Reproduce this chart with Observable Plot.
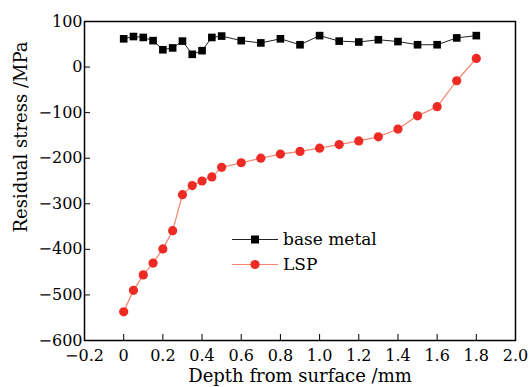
<!DOCTYPE html>
<html><head><meta charset="utf-8">
<script src="https://cdn.jsdelivr.net/npm/d3@7"></script>
<script src="https://cdn.jsdelivr.net/npm/@observablehq/plot@0.6"></script>
<style>
body{margin:0;background:#fff;}
#wrap{position:relative;width:532px;height:387px;font-family:"DejaVu Serif",serif;}
#legend{position:absolute;left:232px;top:227px;font-size:17px;line-height:25px;color:#000;}
#legend div{display:flex;align-items:center;height:25px;}
#legend svg{margin-right:5px;}
</style>
</head><body>
<div id="wrap"><div id="chart"></div>
<div id="legend"></div></div>
<script>
const depth = [0,0.05,0.1,0.15,0.2,0.25,0.3,0.35,0.4,0.45,0.5,0.6,0.7,0.8,0.9,1.0,1.1,1.2,1.3,1.4,1.5,1.6,1.7,1.8];
const baseMetal = [62,67,65,58,38,42,57,28,36,65,68,58,53,62,49,69,57,55,60,56,49,49,64,69];
const lsp = [-537,-490,-456,-430,-399,-359,-280,-260,-250,-241,-220,-210,-200,-191,-185,-178,-170,-162,-153,-136,-107,-87,-30,19];
const xTicks = [-0.2,0,0.2,0.4,0.6,0.8,1.0,1.2,1.4,1.6,1.8,2.0];
const yTicks = [-600,-500,-400,-300,-200,-100,0,100];
const seriesNames = ["base metal","LSP"];

const baseData = depth.map((d,i)=>({x:d,y:baseMetal[i]}));
const lspData = depth.map((d,i)=>({x:d,y:lsp[i]}));

const fmtX = d => d === 0 ? "0" : d3.format(".1f")(d);

const chart = Plot.plot({
  width:532, height:387,
  marginLeft:84, marginRight:17, marginTop:21, marginBottom:47,
  style:{fontFamily:"DejaVu Serif, serif", fontSize:"16px", color:"#000", background:"#fff"},
  x:{domain:[-0.2,2.0]},
  y:{domain:[-600,100]},
  marks:[
    Plot.axisX({ticks:xTicks, tickFormat:fmtX, tickSize:-6, tickPadding:15, label:null, stroke:"#000"}),
    Plot.axisY({ticks:yTicks, tickSize:-6, tickPadding:8, label:null, stroke:"#000"}),
    Plot.text(["Depth from surface /mm"],{frameAnchor:"bottom", dy:41, fontSize:18, lineAnchor:"bottom", text:d=>d}),
    Plot.text(["Residual stress /MPa"],{frameAnchor:"left", textAnchor:"middle", dx:-63, dy:-44, rotate:-90, fontSize:18, text:d=>d}),
    Plot.line(baseData,{x:"x",y:"y",stroke:"#222",strokeWidth:1}),
    Plot.dot(baseData,{x:"x",y:"y",symbol:"square",r:4.3,fill:"#000"}),
    Plot.line(lspData,{x:"x",y:"y",stroke:"#f5826c",strokeWidth:1.2}),
    Plot.dot(lspData,{x:"x",y:"y",r:4.6,fill:"#ee2a24"}),
    Plot.frame({stroke:"#000",strokeWidth:1.5})
  ]
});
document.getElementById("chart").appendChild(chart);

const leg = document.getElementById("legend");
const styles = [{stroke:"#222", fill:"#000", shape:"square"},{stroke:"#f5826c", fill:"#ee2a24", shape:"circle"}];
seriesNames.forEach((name,i)=>{
  const s = styles[i];
  const row = document.createElement("div");
  const marker = s.shape === "square"
    ? `<rect x="19" y="6.5" width="8" height="8" fill="${s.fill}"/>`
    : `<circle cx="23" cy="10.5" r="4.6" fill="${s.fill}"/>`;
  row.innerHTML = `<svg width="46" height="21"><line x1="0" x2="46" y1="10.5" y2="10.5" stroke="${s.stroke}" stroke-width="1.2"/>${marker}</svg><span>${name}</span>`;
  leg.appendChild(row);
});
</script>
</body></html>
